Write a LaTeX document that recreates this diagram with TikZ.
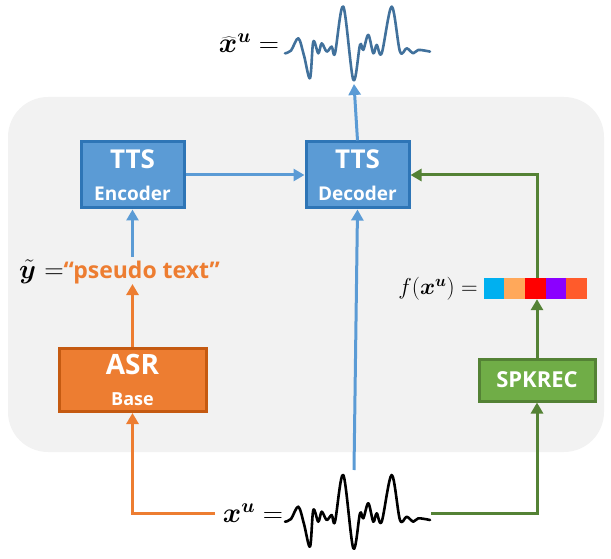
\RequirePackage{fix-cm}
\documentclass[tikz,border=0pt]{standalone}
\usepackage{fontspec}
\usepackage{bm}
\newfontfamily\uifont{Open Sans}
\usetikzlibrary{arrows.meta}
\definecolor{tblue}{HTML}{5B9BD5}
\definecolor{tbluedark}{HTML}{2E75B6}
\definecolor{torange}{HTML}{ED7D31}
\definecolor{torangedark}{HTML}{C55A11}
\definecolor{tgreen}{HTML}{70AD47}
\definecolor{tgreendark}{HTML}{548235}
\definecolor{bgg}{HTML}{F2F2F2}
\definecolor{wavec}{HTML}{41719C}
\definecolor{c1}{HTML}{00B0F0}
\definecolor{c2}{HTML}{FFA85A}
\definecolor{c3}{HTML}{FF0000}
\definecolor{c4}{HTML}{8B00FF}
\definecolor{c5}{HTML}{FF5B2B}
\tikzset{
  boxbase/.style={rectangle, line width=3pt, text=white, align=center, inner sep=0pt},
  ttsbox/.style={boxbase, fill=tblue, draw=tbluedark, minimum width=103pt, minimum height=66pt, font=\uifont\bfseries\fontsize{19}{32}\selectfont},
  asrbox/.style={boxbase, fill=torange, draw=torangedark, minimum width=147pt, minimum height=63pt, font=\uifont\bfseries\fontsize{18}{31}\selectfont},
  spkbox/.style={boxbase, fill=tgreen, draw=tgreendark, minimum width=116pt, minimum height=42pt, font=\uifont\bfseries\fontsize{22}{26}\selectfont},
  arr/.style={line width=3pt, -{Triangle[length=11pt,width=12pt]}},
  wavestyle/.style={line width=2.6pt, line join=round, line cap=round},
  bigmath/.style={font=\fontsize{28}{32}\selectfont, inner sep=0pt},
}
\begin{document}
\begin{tikzpicture}[x=1pt,y=-1pt]
\useasboundingbox (0,0) rectangle (611,559);
\fill[bgg, rounded corners=40pt] (8,97) rectangle (604,452);

% boxes
\node[ttsbox] (enc) at (132.5,175) {{\fontsize{26}{28}\selectfont TTS}\\Encoder};
\node[ttsbox] (dec) at (357.5,175) {{\fontsize{26}{28}\selectfont TTS}\\Decoder};
\node[asrbox] (asr) at (132.5,380) {{\fontsize{28}{30}\selectfont ASR}\\Base};
\node[spkbox] (spk) at (537,380) {SPKREC};

% labels
\node[bigmath] (xhat) at (249,43) {$\widehat{\bm{x}}^{\bm{u}} =$};
\node[bigmath] (xu) at (253,513) {$\bm{x}^{\bm{u}} =$};
\node[inner sep=0pt, anchor=west] (pt) at (19,272) {{\fontsize{27}{30}\selectfont$\tilde{\bm{y}}$ =}{\uifont\bfseries\fontsize{23}{26}\selectfont\color{torange}“pseudo text”}};
\node[inner sep=0pt, anchor=east] (fx) at (478,289) {\fontsize{23}{26}\selectfont$f(\bm{x}^{\bm{u}}) =$};

% vector
\node[minimum width=103pt, minimum height=21pt, inner sep=0pt] (vec) at (535.5,288.5) {};
\foreach \i/\c in {0/c1,1/c2,2/c3,3/c4,4/c5}{
  \fill[\c] ([xshift=\i*20.6pt]vec.north west) rectangle ([xshift=\i*20.6pt+20.6pt]vec.south west);
}

% waveforms
\coordinate (wtop) at (354,84);
\coordinate (wbotin) at (354,470);
\coordinate (wl) at (215,513);
\coordinate (wr) at (431,513);
\def\wavecoords{(285,521.7) (291,519) (298.3,506.7) (304,524) (310,546.7) (313.3,510) (318.3,521.7) (321.7,511.7) (326.7,520) (331.7,515) (335,521.7) (343.3,475) (353.3,548.3) (360,513.3) (363.3,518.3) (368.3,503.3) (373.3,521.7) (376.7,513.3) (381.7,521.7) (391.7,475) (400,520) (406.7,516.7) (413.3,521.7) (418.3,518.3) (430,520)}
\draw[wavestyle, black] plot[smooth, tension=0.55] coordinates {\wavecoords};
\draw[wavestyle, wavec, shift={(0,-468.4)}] plot[smooth, tension=0.55] coordinates {\wavecoords};

% connectors
\draw[arr, tblue] (enc.east) -- (dec.west);
\draw[arr, tblue] (dec.north) -- (wtop);
\draw[arr, tblue] (wbotin) -- (dec.south);
\draw[arr, tblue] (pt.north -| enc.south) ++(0,-3) -- (enc.south);
\draw[arr, torange] (asr.north) -- (asr.north |- pt.south);
\draw[arr, torange] (wl) -| (asr.south);
\draw[arr, tgreendark] (wr) -| (spk.south);
\draw[arr, tgreendark] (spk.north) -- (spk.north |- vec.south);
\draw[arr, tgreendark] (spk.north |- vec.north) |- (dec.east);
\end{tikzpicture}
\end{document}
